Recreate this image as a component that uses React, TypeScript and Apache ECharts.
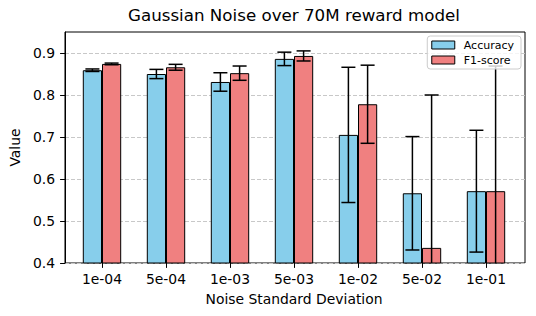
import React, { useEffect, useRef } from "react";
import * as echarts from "echarts";

const categories = ["1e-04", "5e-04", "1e-03", "5e-03", "1e-02", "5e-02", "1e-01"];
const accuracy = [0.859, 0.85, 0.831, 0.886, 0.705, 0.566, 0.571];
const accuracyErr = [0.003, 0.011, 0.022, 0.016, 0.161, 0.135, 0.145];
const f1 = [0.874, 0.866, 0.852, 0.893, 0.778, 0.436, 0.571];
const f1Err = [0.002, 0.007, 0.017, 0.012, 0.093, 0.364, 0.298];
const yTicks = [0.4, 0.5, 0.6, 0.7, 0.8, 0.9];

const FONT = "DejaVu Sans";

export default function App() {
  const ref = useRef<HTMLDivElement>(null);
  useEffect(() => {
    if (!ref.current) return;
    const chart = echarts.init(ref.current, null, { renderer: "svg" });

    const errData = (vals: number[], errs: number[], side: number) =>
      vals.map((v, i) => [i, v, errs[i], side]);

    const renderErr = (params: any, api: any) => {
      const idx = api.value(0);
      const v = api.value(1);
      const e = api.value(2);
      const side = api.value(3);
      const band = api.size([1, 0])[0];
      const cx = api.coord([idx, v])[0] + side * band * 0.15;
      const yHi = api.coord([idx, v + e])[1];
      const yLo = api.coord([idx, v - e])[1];
      const cap = 7;
      const st = { stroke: "#000", lineWidth: 1.5 };
      return {
        type: "group",
        children: [
          { type: "line", shape: { x1: cx, y1: yHi, x2: cx, y2: yLo }, style: st },
          { type: "line", shape: { x1: cx - cap, y1: yHi, x2: cx + cap, y2: yHi }, style: st },
          { type: "line", shape: { x1: cx - cap, y1: yLo, x2: cx + cap, y2: yLo }, style: st },
        ],
      };
    };

    chart.setOption({
      animation: false,
      textStyle: { fontFamily: FONT },
      title: {
        text: "Gaussian Noise over 70M reward model",
        left: 128,
        top: 6,
        padding: 0,
        textStyle: { fontFamily: FONT, fontSize: 16.7, fontWeight: "normal", color: "#000" },
      },
      legend: {
        orient: "vertical",
        right: 15,
        top: 36,
        icon: "rect",
        itemWidth: 23,
        itemHeight: 8,
        itemGap: 3,
        padding: [3, 7, 3, 4],
        backgroundColor: "rgba(255,255,255,0.8)",
        borderColor: "#cccccc",
        borderWidth: 1,
        borderRadius: 3,
        itemStyle: { borderColor: "#000", borderWidth: 1 },
        textStyle: { fontFamily: FONT, fontSize: 11, color: "#000", lineHeight: 12, padding: [0, 0, 0, 4] },
        data: ["Accuracy", "F1-score"],
        z: 10,
      },
      grid: [
        { left: 62, right: 11, top: 32, bottom: 53, show: true, borderColor: "#000", borderWidth: 1, backgroundColor: "transparent" },
        { left: 70, right: 18, top: 32, bottom: 53 },
      ],
      xAxis: [
        { type: "value", gridIndex: 0, min: 0, max: 1, show: false },
        {
          type: "category",
          gridIndex: 1,
          data: categories,
          axisLine: { show: false },
          axisTick: { show: true, alignWithLabel: true, length: 4.9, lineStyle: { color: "#000", width: 1 } },
          axisLabel: { fontFamily: FONT, fontSize: 13.9, color: "#000", margin: 9 },
          name: "Noise Standard Deviation",
          nameLocation: "middle",
          nameGap: 29,
          nameTextStyle: { fontFamily: FONT, fontSize: 13.9, color: "#000" },
        },
      ],
      yAxis: [
        {
          type: "value",
          gridIndex: 0,
          min: 0.4,
          max: 0.95,
          interval: 0.1,
          axisLine: { show: true, lineStyle: { color: "#000", width: 1 } },
          axisTick: { show: true, length: 4.9, lineStyle: { color: "#000", width: 1 }, customValues: yTicks },
          axisLabel: {
            fontFamily: FONT,
            fontSize: 13.9,
            color: "#000",
            margin: 10,
            customValues: yTicks,
            formatter: (v: number) => v.toFixed(1),
          },
          splitLine: { show: true, lineStyle: { color: "#c8c8c8", type: [4, 2], width: 1 } },
          name: "Value",
          nameLocation: "middle",
          nameGap: 38,
          nameTextStyle: { fontFamily: FONT, fontSize: 13.9, color: "#000" },
        },
        { type: "value", gridIndex: 1, min: 0.4, max: 0.95, show: false },
      ],
      series: [
        {
          name: "Accuracy",
          type: "bar",
          xAxisIndex: 1,
          yAxisIndex: 1,
          data: accuracy,
          barWidth: "30%",
          barGap: "0%",
          itemStyle: { color: "#87CEEB", borderColor: "#000", borderWidth: 1 },
        },
        {
          name: "F1-score",
          type: "bar",
          xAxisIndex: 1,
          yAxisIndex: 1,
          data: f1,
          barWidth: "30%",
          barGap: "0%",
          itemStyle: { color: "#F08080", borderColor: "#000", borderWidth: 1 },
        },
        {
          type: "custom",
          xAxisIndex: 1,
          yAxisIndex: 1,
          clip: true,
          renderItem: renderErr,
          data: errData(accuracy, accuracyErr, -1),
          z: 5,
        },
        {
          type: "custom",
          xAxisIndex: 1,
          yAxisIndex: 1,
          clip: true,
          renderItem: renderErr,
          data: errData(f1, f1Err, 1),
          z: 5,
        },
      ],
    });
    return () => chart.dispose();
  }, []);
  return <div ref={ref} style={{ width: 536, height: 316, position: "absolute", left: 0, top: 0 }} />;
}
